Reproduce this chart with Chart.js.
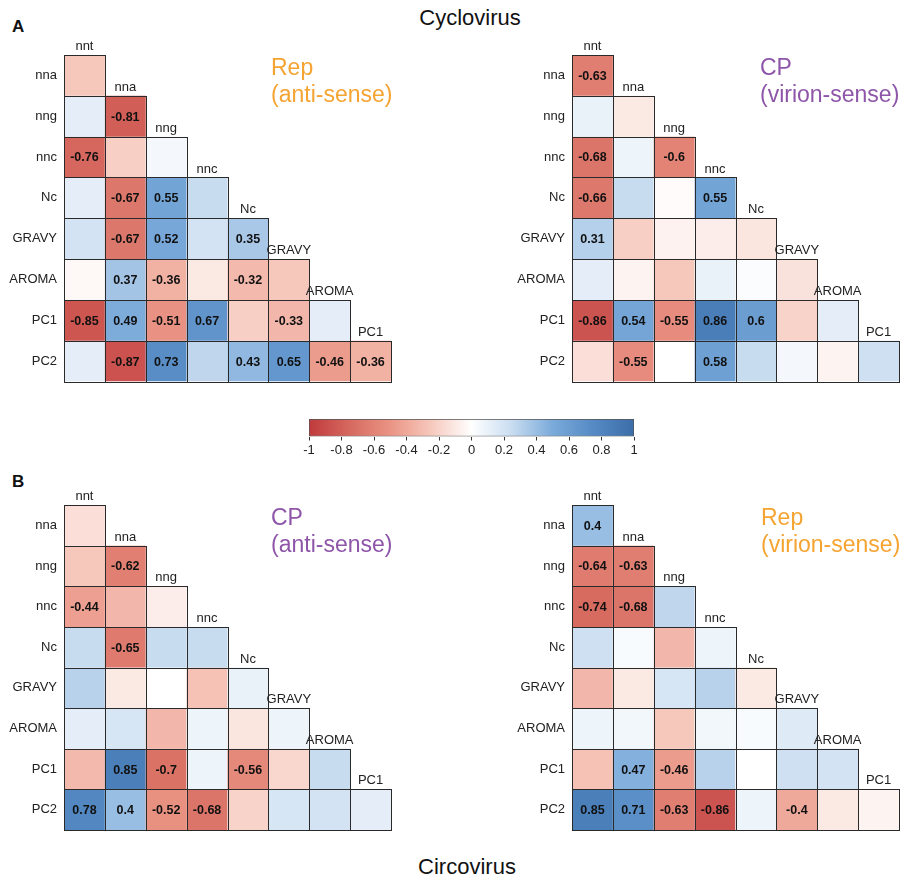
<!DOCTYPE html>
<html>
<head>
<meta charset="utf-8">
<script src="https://cdn.jsdelivr.net/npm/chart.js@4.4.1/dist/chart.umd.min.js"></script>
<style>
  body { margin: 0; width: 901px; height: 876px; background: #fff; position: relative; overflow: hidden;
         font-family: "Liberation Sans", Arial, sans-serif; }
  .abs { position: absolute; }
  canvas { position: absolute; }
  .big { font-size: 22px; line-height: 22px; color: #111; width: 300px; text-align: center; }
  .tag { font-size: 17px; line-height: 17px; font-weight: bold; color: #111; }
  .ttl { font-size: 23px; line-height: 27px; white-space: nowrap; }
  .orange { color: #f5a331; }
  .purple { color: #8e55a9; }
</style>
</head>
<body>
<div class="abs tag" style="left:12px;top:18px">A</div>
<div class="abs tag" style="left:12px;top:473px">B</div>
<div class="abs big" style="left:320px;top:7px">Cyclovirus</div>
<div class="abs big" style="left:317px;top:856px">Circovirus</div>

<canvas id="pA1" width="450" height="392" style="left:0;top:0"></canvas>
<canvas id="pA2" width="451" height="392" style="left:450px;top:0"></canvas>
<canvas id="pB1" width="450" height="392" style="left:0;top:450px"></canvas>
<canvas id="pB2" width="451" height="392" style="left:450px;top:450px"></canvas>
<canvas id="cbar" width="370" height="50" style="left:290px;top:405px"></canvas>

<div class="abs ttl orange" style="left:271px;top:54px">Rep<br>(anti-sense)</div>
<div class="abs ttl purple" style="left:760px;top:54px">CP<br>(virion-sense)</div>
<div class="abs ttl purple" style="left:271px;top:504px">CP<br>(anti-sense)</div>
<div class="abs ttl orange" style="left:761px;top:504px">Rep<br>(virion-sense)</div>

<script>
// correlation triangles, rows x columns (lower triangle only)
const rowLabels = ['nna', 'nng', 'nnc', 'Nc', 'GRAVY', 'AROMA', 'PC1', 'PC2'];
const colLabels = ['nnt', 'nna', 'nng', 'nnc', 'Nc', 'GRAVY', 'AROMA', 'PC1'];

const repAntiCyclo = [
  [-0.25],
  [0.12, -0.81],
  [-0.76, -0.22, 0.05],
  [0.12, -0.67, 0.55, 0.25],
  [0.2, -0.67, 0.52, 0.2, 0.35],
  [-0.03, 0.37, -0.36, -0.1, -0.32, -0.25],
  [-0.85, 0.49, -0.51, 0.67, -0.22, -0.33, 0.12],
  [0.12, -0.87, 0.73, 0.28, 0.43, 0.65, -0.46, -0.36]
];
const cpVirionCyclo = [
  [-0.63],
  [0.1, -0.1],
  [-0.68, 0.08, -0.6],
  [-0.66, 0.25, -0.02, 0.55],
  [0.31, -0.22, -0.06, -0.08, -0.12],
  [0.12, -0.05, -0.25, 0.1, 0.02, -0.13],
  [-0.86, 0.54, -0.55, 0.86, 0.6, -0.2, 0.12],
  [-0.15, -0.55, 0.0, 0.58, 0.25, 0.05, -0.05, 0.22]
];
const cpAntiCirco = [
  [-0.15],
  [-0.25, -0.62],
  [-0.44, -0.33, -0.08],
  [0.25, -0.65, 0.25, 0.25],
  [0.3, -0.1, 0.0, -0.28, 0.1],
  [0.12, 0.18, -0.33, 0.08, -0.12, 0.08],
  [-0.32, 0.85, -0.7, 0.08, -0.56, -0.18, 0.25],
  [0.78, 0.4, -0.52, -0.68, -0.2, 0.18, 0.2, 0.12]
];
const repVirionCirco = [
  [0.4],
  [-0.64, -0.63],
  [-0.74, -0.68, 0.28],
  [0.22, 0.03, -0.33, 0.08],
  [-0.33, -0.1, 0.18, 0.3, -0.1],
  [0.08, 0.06, -0.25, 0.06, 0.03, 0.15],
  [-0.28, 0.47, -0.46, 0.3, 0.0, 0.22, 0.2],
  [0.85, 0.71, -0.63, -0.86, 0.08, -0.4, -0.1, -0.05]
];
// only significant values get a number printed
const labelMinCyclo = 0.3;
const labelMinCirco = 0.38;

const cbTicks = [-1, -0.8, -0.6, -0.4, -0.2, 0, 0.2, 0.4, 0.6, 0.8, 1];

// RdBu-like palette
const stops = [
  [-1, [192, 58, 60]], [-0.75, [214, 105, 95]], [-0.5, [234, 148, 132]], [-0.25, [246, 200, 188]],
  [0, [255, 255, 255]],
  [0.25, [200, 220, 240]], [0.5, [122, 170, 218]], [0.75, [85, 138, 196]], [1, [60, 110, 168]]
];
function corrColor(v) {
  for (let k = 1; k < stops.length; k++) {
    if (v <= stops[k][0]) {
      const [v0, c0] = stops[k - 1], [v1, c1] = stops[k];
      const t = (v - v0) / (v1 - v0);
      const c = c0.map((x, n) => Math.round(x + (c1[n] - x) * t));
      return 'rgb(' + c.join(',') + ')';
    }
  }
  return 'rgb(' + stops[stops.length - 1][1].join(',') + ')';
}

const LBL_FONT = '13px "Liberation Sans", Arial, sans-serif';
const VAL_FONT = 'bold 12.5px "Liberation Sans", Arial, sans-serif';

const triPlugin = {
  id: 'tri',
  afterDatasetsDraw(chart) {
    const ctx = chart.ctx, x = chart.scales.x, y = chart.scales.y;
    const minShown = chart.options.plugins.tri.minShown;
    ctx.save();
    // cell outlines + values
    chart.data.datasets.forEach((ds, i) => {
      chart.getDatasetMeta(i).data.forEach((bar, j) => {
        if (ds.data[j] == null) return;
        const p = bar.getProps(['x', 'y', 'base', 'width'], true);
        const l = Math.round(p.x - p.width / 2) + 0.5, r = Math.round(p.x + p.width / 2) + 0.5;
        const t = Math.round(Math.min(p.y, p.base)) + 0.5, b = Math.round(Math.max(p.y, p.base)) + 0.5;
        ctx.strokeStyle = '#2a2a2a';
        ctx.lineWidth = 1;
        ctx.strokeRect(l, t, r - l, b - t);
        const v = ds.corr[j];
        if (Math.abs(v) >= minShown) {
          ctx.fillStyle = '#111';
          ctx.font = VAL_FONT;
          ctx.textAlign = 'center';
          ctx.textBaseline = 'middle';
          ctx.fillText(String(v), p.x, (p.y + p.base) / 2 + 1);
        }
      });
    });
    // row labels
    ctx.fillStyle = '#222';
    ctx.font = LBL_FONT;
    ctx.textAlign = 'right';
    ctx.textBaseline = 'middle';
    rowLabels.forEach((lab, i) => {
      ctx.fillText(lab, chart.chartArea.left - 7, y.getPixelForValue(i + 0.5));
    });
    // column labels above the diagonal
    ctx.textAlign = 'center';
    ctx.textBaseline = 'bottom';
    colLabels.forEach((lab, j) => {
      ctx.fillText(lab, x.getPixelForValue(j), y.getPixelForValue(j) - 2);
    });
    ctx.restore();
  }
};

function makePanel(id, values, minShown, pad) {
  const datasets = values.map((row, i) => ({
    label: rowLabels[i],
    data: colLabels.map((c, j) => (j < row.length ? [i, i + 1] : null)),
    backgroundColor: colLabels.map((c, j) => (j < row.length ? corrColor(row[j]) : 'rgba(0,0,0,0)')),
    borderWidth: 0,
    corr: row
  }));
  return new Chart(document.getElementById(id), {
    type: 'bar',
    data: { labels: colLabels, datasets: datasets },
    options: {
      responsive: false,
      animation: false,
      layout: { padding: pad },
      datasets: { bar: { grouped: false, barPercentage: 1, categoryPercentage: 1, inflateAmount: 0 } },
      scales: {
        x: { display: false },
        y: { display: false, min: 0, max: 8, reverse: true }
      },
      plugins: {
        legend: { display: false },
        tooltip: { enabled: false },
        tri: { minShown: minShown }
      }
    },
    plugins: [triPlugin]
  });
}

makePanel('pA1', repAntiCyclo, labelMinCyclo, { left: 64, right: 59, top: 55, bottom: 10.5 });
makePanel('pA2', cpVirionCyclo, labelMinCyclo, { left: 122, right: 2, top: 55, bottom: 10.5 });
makePanel('pB1', cpAntiCirco, labelMinCirco, { left: 64, right: 59, top: 55, bottom: 12 });
makePanel('pB2', repVirionCirco, labelMinCirco, { left: 122, right: 2, top: 55, bottom: 12 });

// colour bar
new Chart(document.getElementById('cbar'), {
  type: 'bar',
  data: {
    labels: ['r'],
    datasets: [{
      data: [[-1, 1]],
      backgroundColor(c) {
        const a = c.chart.chartArea;
        if (!a) return null;
        const g = c.chart.ctx.createLinearGradient(a.left, 0, a.right, 0);
        stops.forEach(([v, col]) => g.addColorStop((v + 1) / 2, 'rgb(' + col.join(',') + ')'));
        return g;
      },
      borderColor: '#555',
      borderWidth: 1,
      borderSkipped: false,
      barPercentage: 1,
      categoryPercentage: 1
    }]
  },
  options: {
    indexAxis: 'y',
    responsive: false,
    animation: false,
    layout: { padding: { left: 19, right: 26, top: 14, bottom: 1 } },
    scales: {
      x: {
        min: -1, max: 1,
        afterBuildTicks(scale) { scale.ticks = cbTicks.map(v => ({ value: v })); },
        grid: { drawOnChartArea: false, drawTicks: true, tickLength: 4, color: '#333' },
        border: { display: false },
        ticks: {
          padding: 2,
          color: '#222',
          font: { size: 13, family: '"Liberation Sans", Arial, sans-serif' },
          callback: v => String(Math.round(v * 10) / 10)
        }
      },
      y: { display: false }
    },
    plugins: { legend: { display: false }, tooltip: { enabled: false } }
  }
});
</script>
</body>
</html>
